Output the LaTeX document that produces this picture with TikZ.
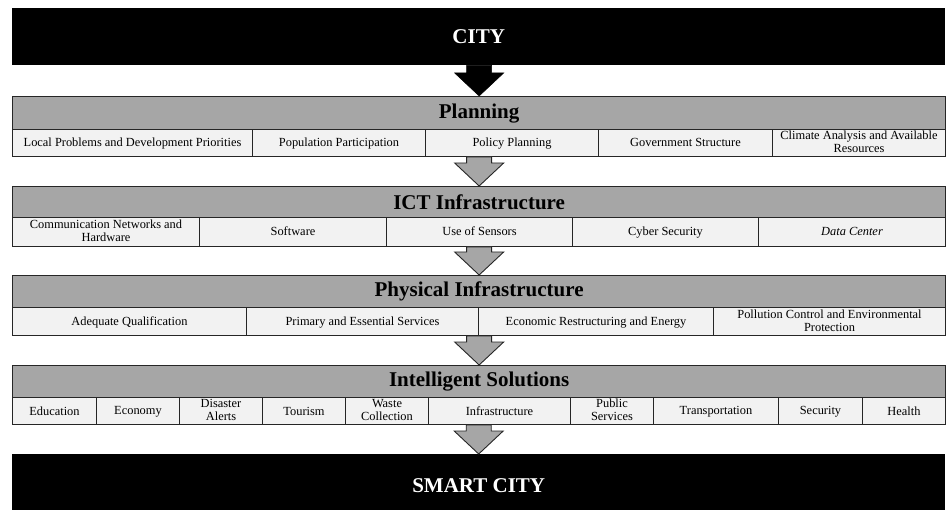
\documentclass[tikz,border=0pt]{standalone}
\usepackage{fontspec}
\setmainfont{Liberation Serif}
\usetikzlibrary{calc}
\definecolor{hdr}{HTML}{A6A6A6}
\definecolor{cellbg}{HTML}{F2F2F2}
\definecolor{edge}{HTML}{262626}
\newcommand\cellstrut{\rule[-2pt]{0pt}{12pt}}
\tikzset{
 blackbox/.style={fill=black, draw=none, anchor=north west, inner sep=0pt, minimum width=933pt, text=white, font=\fontsize{21}{24}\selectfont\bfseries},
 header/.style={fill=hdr, draw=edge, line width=1.3pt, anchor=north west, inner sep=0pt, minimum width=933pt, font=\fontsize{21}{24}\selectfont\bfseries},
 cell/.style={fill=cellbg, draw=edge, line width=1pt, anchor=north west, inner sep=0pt, align=center, font=\fontsize{12.4}{13.2}\selectfont, execute at begin node=\cellstrut, execute at end node=\cellstrut},
 grayarrow/.style={fill=hdr, draw=edge, line width=0.9pt, line join=miter},
 blackarrow/.style={fill=black, draw=black, line width=0.5pt}
}
\newcommand\flowarrow[3]{\draw[#1] let \p1=(#2.south), \p2=(#3.north) in
 (\x2-12.5pt,\y1) -- (\x2+12.5pt,\y1) -- (\x2+12.5pt,\y2+23pt) -- (\x2+24.5pt,\y2+23pt) -- (\x2,\y2) -- (\x2-24.5pt,\y2+23pt) -- (\x2-12.5pt,\y2+23pt) -- cycle;}
\begin{document}
\begin{tikzpicture}[x=1pt,y=-1pt]
\useasboundingbox (0,0) rectangle (949,510);
% top
\node[blackbox, minimum height=57pt] (city) at (12,8) {CITY};
% Planning
\node[header, minimum height=33pt] (plan) at (12,96) {Planning};
\node[cell, minimum width=240pt, minimum height=27pt] (p1) at (12,129) {Local Problems and Development Priorities};
\node[cell, minimum width=173pt, minimum height=27pt] (p2) at (252,129) {Population Participation};
\node[cell, minimum width=173pt, minimum height=27pt] (p3) at (425,129) {Policy Planning};
\node[cell, minimum width=174pt, minimum height=27pt] (p4) at (598,129) {Government Structure};
\node[cell, minimum width=173pt, minimum height=27pt] (p5) at (772,129) {Climate Analysis and Available\\Resources};
% ICT
\node[header, minimum height=31pt] (ict) at (12,186) {ICT Infrastructure};
\node[cell, minimum width=187pt, minimum height=29pt] (i1) at (12,217) {Communication Networks and\\Hardware};
\node[cell, minimum width=187pt, minimum height=29pt] (i2) at (199,217) {Software};
\node[cell, minimum width=186pt, minimum height=29pt] (i3) at (386,217) {Use of Sensors};
\node[cell, minimum width=186pt, minimum height=29pt] (i4) at (572,217) {Cyber Security};
\node[cell, minimum width=187pt, minimum height=29pt] (i5) at (758,217) {\textit{Data Center}};
% Physical
\node[header, minimum height=32pt] (phys) at (12,275) {Physical Infrastructure};
\node[cell, minimum width=234pt, minimum height=28pt] (f1) at (12,307) {Adequate Qualification};
\node[cell, minimum width=232pt, minimum height=28pt] (f2) at (246,307) {Primary and Essential Services};
\node[cell, minimum width=235pt, minimum height=28pt] (f3) at (478,307) {Economic Restructuring and Energy};
\node[cell, minimum width=232pt, minimum height=28pt] (f4) at (713,307) {Pollution Control and Environmental\\Protection};
% Intelligent
\node[header, minimum height=32pt] (intel) at (12,365) {Intelligent Solutions};
\node[cell, minimum width=84pt, minimum height=27pt] (s1) at (12,397) {Education};
\node[cell, minimum width=83pt, minimum height=27pt] (s2) at (96,397) {Economy};
\node[cell, minimum width=83pt, minimum height=27pt] (s3) at (179,397) {Disaster\\Alerts};
\node[cell, minimum width=83pt, minimum height=27pt] (s4) at (262,397) {Tourism};
\node[cell, minimum width=83pt, minimum height=27pt] (s5) at (345,397) {Waste\\Collection};
\node[cell, minimum width=142pt, minimum height=27pt] (s6) at (428,397) {Infrastructure};
\node[cell, minimum width=83pt, minimum height=27pt] (s7) at (570,397) {Public\\Services};
\node[cell, minimum width=125pt, minimum height=27pt] (s8) at (653,397) {Transportation};
\node[cell, minimum width=84pt, minimum height=27pt] (s9) at (778,397) {Security};
\node[cell, minimum width=83pt, minimum height=27pt] (s10) at (862,397) {Health};
% bottom
\node[blackbox, minimum height=62pt] (smart) at (12,454) {SMART CITY};
% arrows
\flowarrow{blackarrow}{city}{plan}
\flowarrow{grayarrow}{p3}{ict}
\flowarrow{grayarrow}{i3}{phys}
\flowarrow{grayarrow}{f3}{intel}
\flowarrow{grayarrow}{s6}{smart}
\end{tikzpicture}
\end{document}
